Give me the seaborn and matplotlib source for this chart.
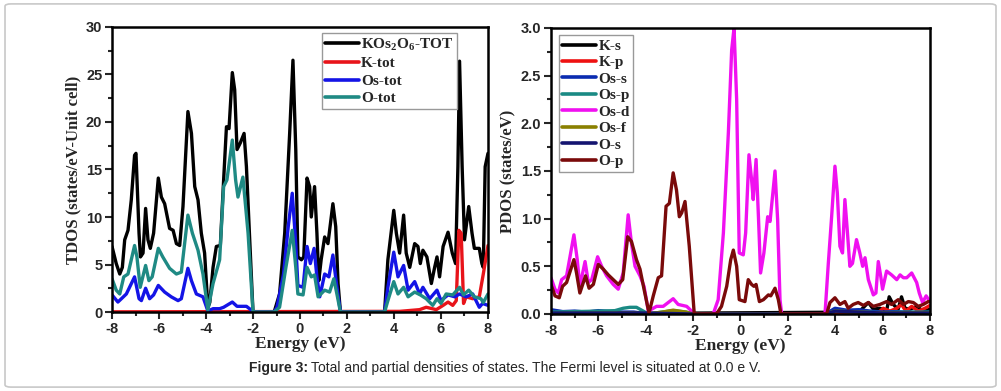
import matplotlib
matplotlib.use("Agg")
import matplotlib.pyplot as plt
import seaborn as sns
from matplotlib.patches import FancyBboxPatch
from matplotlib.ticker import MultipleLocator, FormatStrFormatter

# ---- left panel: total DOS ----
E_tot = [-8, -7.82, -7.67, -7.56, -7.46, -7.32, -7.18, -7.04, -6.98, -6.85, -6.79, -6.68, -6.57, -6.47,
         -6.37, -6.23, -6.03, -5.9, -5.76, -5.55, -5.4, -5.26, -5.12, -4.98, -4.77, -4.62, -4.48, -4.34,
         -4.2, -4.06, -3.92, -3.84, -3.7, -3.56, -3.39, -3.25, -3.13, -3.02, -2.88, -2.78, -2.68, -2.54,
         -2.38, -2.28, -2.14, -2.0, -1.1, -0.87, -0.65, -0.44, -0.3, -0.18, -0.09, 0.06, 0.16, 0.3, 0.41,
         0.48, 0.62, 0.72, 0.8, 0.9, 1.05, 1.19, 1.4, 1.52, 1.62, 1.72, 3.6, 3.74, 3.89, 3.99, 4.1, 4.24,
         4.41, 4.52, 4.67, 4.88, 5.02, 5.12, 5.23, 5.4, 5.59, 5.73, 5.83, 5.94, 6.09, 6.3, 6.48, 6.62,
         6.72, 6.79, 6.9, 7.0, 7.18, 7.32, 7.42, 7.63, 7.74, 7.8, 7.88, 8.0]
tot = [6.9, 5.1, 4.0, 4.7, 7.6, 8.6, 11.8, 16.5, 16.7, 8.3, 5.8, 6.2, 10.9, 7.6, 6.7, 8.3, 14.1, 12.1,
       11.4, 8.8, 8.6, 7.2, 7.0, 11.1, 21.1, 18.8, 13.2, 11.8, 8.3, 6.2, 0.5, 1.0, 4.7, 6.9, 7.0, 13.9,
       19.5, 19.3, 25.2, 23.4, 17.1, 17.8, 18.8, 15.3, 7.6, 0, 0, 1.9, 8.3, 18.8, 26.5, 17.1, 5.8, 5.5,
       5.8, 14.1, 13.2, 10.0, 13.2, 8.3, 3.3, 5.5, 7.9, 7.2, 11.4, 9.0, 3.0, 0, 0, 5.5, 8.6, 10.7, 8.3,
       6.2, 10.2, 6.2, 4.7, 7.2, 6.9, 5.1, 6.5, 5.8, 3.0, 4.7, 5.8, 3.7, 6.9, 8.4, 6.2, 5.1, 15.3, 26.4,
       15.3, 7.6, 11.1, 8.3, 6.7, 6.7, 5.1, 4.7, 15.3, 16.7]

E_k = [-8, 4.24, 5.09, 5.37, 5.8, 6.09, 6.3, 6.5, 6.65, 6.76, 6.86, 6.96, 7.07, 7.35, 7.63, 7.8, 8.0]
k_tot = [0.02, 0.07, 0.25, 0.5, 0.25, 0.7, 1.05, 0.7, 1.2, 8.6, 8.3, 0.9, 1.6, 1.4, 1.6, 4.0, 7.0]

E_os = [-8, -7.75, -7.6, -7.39, -7.04, -6.85, -6.75, -6.57, -6.4, -6.23, -6.03, -5.76, -5.48, -5.19,
        -5.05, -4.77, -4.62, -4.41, -4.13, -3.92, -3.7, -3.42, -3.25, -2.88, -2.68, -2.28, -2.07, -2.0,
        -1.1, -0.98, -0.7, -0.5, -0.33, -0.18, -0.09, 0.13, 0.3, 0.44, 0.6, 0.72, 0.84, 1.05, 1.23, 1.4,
        1.55, 1.72, 3.6, 3.74, 3.99, 4.17, 4.41, 4.6, 4.88, 5.09, 5.23, 5.52, 5.83, 6.0, 6.3, 6.59, 6.79,
        7.07, 7.35, 7.63, 7.77, 8.0]
os_tot = [1.8, 1.05, 1.4, 1.9, 3.7, 1.4, 1.2, 2.5, 1.4, 1.8, 2.8, 2.1, 1.6, 1.2, 1.4, 4.6, 3.3, 1.9, 1.6,
          0.1, 0.35, 0.35, 0.5, 1.05, 0.6, 0.6, 0.2, 0, 0, 0.5, 4.0, 9.0, 12.5, 7.2, 2.8, 2.6, 6.9, 5.1,
          6.7, 3.7, 1.6, 4.0, 3.7, 6.0, 3.0, 0, 0, 2.6, 6.3, 3.7, 4.9, 2.3, 3.2, 1.9, 2.6, 1.4, 2.3, 1.2,
          1.8, 1.6, 1.9, 1.6, 1.9, 0.5, 0.9, 0.7]

E_o = [-8, -7.82, -7.67, -7.5, -7.32, -7.04, -6.94, -6.8, -6.57, -6.43, -6.29, -6.03, -5.84, -5.55,
       -5.26, -5.05, -4.77, -4.58, -4.34, -4.13, -3.92, -3.7, -3.42, -3.25, -3.11, -2.88, -2.74, -2.64,
       -2.43, -2.21, -2.0, -1.1, -0.87, -0.6, -0.33, -0.18, -0.09, 0.13, 0.3, 0.48, 0.62, 0.77, 1.05,
       1.26, 1.44, 1.57, 1.72, 3.6, 3.74, 3.99, 4.17, 4.41, 4.6, 4.88, 5.12, 5.37, 5.65, 5.83, 6.0, 6.22,
       6.5, 6.79, 6.96, 7.18, 7.42, 7.7, 7.8, 8.0]
o_tot = [3.5, 2.3, 1.9, 3.7, 4.0, 7.0, 5.8, 2.6, 4.9, 3.3, 3.7, 6.7, 5.8, 4.6, 4.0, 4.2, 10.2, 8.3, 6.5,
         4.0, 0.2, 3.0, 5.5, 13.2, 13.9, 18.1, 13.9, 12.1, 14.2, 8.3, 0, 0, 0.5, 4.7, 8.6, 4.7, 1.9, 1.8,
         4.7, 3.7, 3.9, 1.6, 2.3, 2.1, 3.5, 1.9, 0, 0, 1.2, 3.2, 1.9, 2.6, 1.6, 2.1, 1.8, 1.4, 0.7, 1.4,
         0.9, 1.9, 1.8, 2.6, 1.8, 2.3, 1.6, 1.4, 1.0, 1.9]

# ---- right panel: partial DOS ----
E_ks = [-8, 5.0, 5.4, 5.61, 5.89, 6.17, 6.28, 6.45, 6.66, 6.8, 6.95, 7.16, 7.44, 7.72, 8.0]
k_s = [0.0, 0.02, 0.12, 0.05, 0.06, 0.03, 0.18, 0.1, 0.05, 0.18, 0.06, 0.05, 0.08, 0.03, 0.05]

E_kp = [-8, 5.75, 6.03, 6.31, 6.6, 6.8, 6.98, 7.23, 7.51, 7.79, 8.0]
k_p = [0.0, 0.0, 0.06, 0.03, 0.06, 0.1, 0.03, 0.08, 0.03, 0.06, 0.09]

E_ss = [-8, -7.5, -7.0, -6.5, -6.0, -5.5, -5.0, -4.5, -3.9, -2.0, 3.6, 3.99, 4.48, 5.0, 5.5, 6.0, 6.5,
        7.0, 7.5, 8.0]
os_s = [0.045, 0.025, 0.03, 0.02, 0.035, 0.025, 0.02, 0.02, 0.0, 0.0, 0.0, 0.06, 0.04, 0.045, 0.03,
        0.02, 0.025, 0.02, 0.015, 0.02]

E_sp = [-8, -7.0, -6.0, -5.3, -4.95, -4.67, -4.39, -4.1, -3.9, -3.3, -2.84, -2.3, -2.0, 3.6, 4.0, 5.0,
        6.0, 7.0, 8.0]
os_p = [0.02, 0.025, 0.03, 0.035, 0.06, 0.07, 0.07, 0.03, 0.0, 0.02, 0.035, 0.02, 0.0, 0.0, 0.03,
        0.02, 0.015, 0.02, 0.02]

E_d = [-8, -7.83, -7.69, -7.55, -7.34, -7.03, -6.89, -6.78, -6.56, -6.42, -6.28, -6.03, -5.86, -5.65,
       -5.37, -5.16, -4.95, -4.74, -4.6, -4.45, -4.24, -4.07, -3.89, -3.75, -3.54, -3.26, -2.84, -2.63,
       -2.27, -2.06, -1.92, -1.15, -0.94, -0.72, -0.51, -0.37, -0.27, -0.16, -0.05, 0.12, 0.22, 0.36,
       0.47, 0.54, 0.66, 0.76, 0.85, 0.99, 1.15, 1.25, 1.46, 1.57, 1.67, 1.74, 3.57, 3.71, 3.85, 3.99,
       4.09, 4.2, 4.31, 4.41, 4.51, 4.62, 4.73, 4.9, 5.04, 5.16, 5.26, 5.4, 5.61, 5.72, 5.82, 5.92, 6.0,
       6.17, 6.38, 6.6, 6.74, 6.88, 7.02, 7.23, 7.44, 7.55, 7.69, 7.84, 8.0]
os_d = [0.38, 0.26, 0.22, 0.36, 0.40, 0.83, 0.57, 0.29, 0.55, 0.33, 0.36, 0.6, 0.5, 0.4, 0.31, 0.26,
        0.43, 1.04, 0.74, 0.5, 0.4, 0.29, 0.03, 0.05, 0.08, 0.08, 0.16, 0.10, 0.08, 0.03, 0, 0, 0.15,
        0.85, 1.9, 2.77, 3.0, 2.25, 0.64, 0.62, 0.85, 1.67, 1.41, 1.2, 1.62, 1.02, 0.43, 0.64, 1.02,
        0.97, 1.5, 0.99, 0.15, 0, 0, 0.53, 1.02, 1.55, 1.27, 0.71, 0.64, 1.2, 0.88, 0.5, 0.53, 0.78,
        0.64, 0.5, 0.59, 0.36, 0.2, 0.22, 0.55, 0.4, 0.26, 0.45, 0.41, 0.36, 0.41, 0.38, 0.38, 0.43,
        0.33, 0.22, 0.12, 0.19, 0.13]

E_sf = [-8, -4.5, -3.9, -3.3, -2.84, -2.3, -2.0, 3.6, 4.0, 4.5, 5.0, 6.0, 7.0, 8.0]
os_f = [0.005, 0.01, 0.0, 0.02, 0.04, 0.02, 0.0, 0.0, 0.03, 0.025, 0.02, 0.01, 0.01, 0.01]

E_s = [-8, -4.0, -2.0, 3.6, 4.0, 5.0, 6.0, 7.0, 8.0]
o_s = [0.01, 0.01, 0.0, 0.0, 0.03, 0.02, 0.01, 0.01, 0.01]

E_p = [-8, -7.83, -7.65, -7.51, -7.34, -7.03, -6.92, -6.78, -6.54, -6.39, -6.21, -6.0, -5.79, -5.58,
       -5.37, -5.16, -4.97, -4.76, -4.6, -4.39, -4.24, -4.07, -3.86, -3.68, -3.47, -3.33, -3.14, -3.0,
       -2.84, -2.7, -2.58, -2.48, -2.34, -2.16, -1.95, -1.01, -0.8, -0.58, -0.41, -0.3, -0.16, -0.05,
       0.19, 0.33, 0.47, 0.57, 0.66, 0.8, 0.97, 1.18, 1.28, 1.46, 1.6, 1.71, 3.64, 3.78, 3.99, 4.2,
       4.41, 4.55, 4.76, 4.97, 5.19, 5.4, 5.61, 5.89, 6.17, 6.38, 6.66, 6.88, 7.09, 7.3, 7.51, 7.72,
       7.93, 8.0]
o_p = [0.31, 0.19, 0.17, 0.29, 0.33, 0.57, 0.43, 0.22, 0.40, 0.27, 0.31, 0.52, 0.47, 0.41, 0.36, 0.31,
       0.36, 0.81, 0.76, 0.57, 0.47, 0.26, 0.01, 0.19, 0.38, 0.4, 1.13, 1.16, 1.48, 1.3, 1.02, 1.06,
       1.18, 0.71, 0, 0, 0.08, 0.29, 0.57, 0.67, 0.5, 0.15, 0.13, 0.36, 0.31, 0.29, 0.31, 0.13, 0.15,
       0.2, 0.19, 0.27, 0.15, 0, 0, 0.12, 0.17, 0.1, 0.13, 0.06, 0.1, 0.12, 0.09, 0.12, 0.08, 0.1, 0.13,
       0.1, 0.15, 0.1, 0.13, 0.12, 0.08, 0.1, 0.13, 0.13]

sns.set_style("ticks")
plt.rcParams['font.family'] = ['Liberation Serif', 'DejaVu Serif']
plt.rcParams['mathtext.default'] = 'regular'
plt.rcParams['axes.unicode_minus'] = False

fig = plt.figure(figsize=(10.01, 3.91), dpi=100)
ax1 = fig.add_axes([0.1119, 0.202, 0.3756, 0.729])
ax2 = fig.add_axes([0.5504, 0.197, 0.3786, 0.7315])

lw = 2.4
left_series = [
    (E_tot, tot, 'black', 'KOs$_2$O$_6$-TOT'),
    (E_k, k_tot, '#e8141a', 'K-tot'),
    (E_os, os_tot, '#1414e6', 'Os-tot'),
    (E_o, o_tot, '#1f8a84', 'O-tot'),
]
for xs, ys, c, lab in left_series:
    sns.lineplot(x=xs, y=ys, ax=ax1, color=c, lw=lw, label=lab, sort=False, estimator=None)

right_series = [
    (E_ks, k_s, 'black', 'K-s'),
    (E_kp, k_p, '#ee1111', 'K-p'),
    (E_ss, os_s, '#0a2bb0', 'Os-s'),
    (E_sp, os_p, '#1a8a84', 'Os-p'),
    (E_d, os_d, '#f010f0', 'Os-d'),
    (E_sf, os_f, '#8a8000', 'Os-f'),
    (E_s, o_s, '#141470', 'O-s'),
    (E_p, o_p, '#7a0a0a', 'O-p'),
]
for xs, ys, c, lab in right_series:
    sns.lineplot(x=xs, y=ys, ax=ax2, color=c, lw=lw, label=lab, sort=False, estimator=None)

bold = dict(fontweight='bold', family=['Liberation Serif', 'DejaVu Serif'])

for ax, ymax, ymaj, ymin, ylab in [(ax1, 30, 5, 2.5, 'TDOS (states/eV-Unit cell)'),
                                   (ax2, 3.0, 0.5, 0.25, 'PDOS (states/eV)')]:
    ax.set_xlim(-8, 8)
    ax.set_ylim(0, ymax)
    ax.xaxis.set_major_locator(MultipleLocator(2))
    ax.xaxis.set_minor_locator(MultipleLocator(1))
    ax.yaxis.set_major_locator(MultipleLocator(ymaj))
    ax.yaxis.set_minor_locator(MultipleLocator(ymin))
    if ax is ax2:
        ax.yaxis.set_major_formatter(FormatStrFormatter('%.1f'))
    ax.tick_params(which='both', direction='out', width=1.5, top=False, right=False)
    ax.tick_params(which='major', length=5, labelsize=10.5, pad=2)
    ax.tick_params(which='minor', length=3)
    for lbl in ax.get_xticklabels() + ax.get_yticklabels():
        lbl.set_fontweight('bold')
        lbl.set_family('Liberation Sans')
    for sp in ax.spines.values():
        sp.set_visible(True)
        sp.set_linewidth(1.8)
        sp.set_color('black')
    ax.set_xlabel('Energy (eV)', fontsize=12.5, labelpad=0, **bold)
    ax.set_ylabel(ylab, fontsize=12, labelpad=3, **bold)

leg_kw = dict(frameon=True, fancybox=False, edgecolor='#999999', framealpha=1,
              handlelength=2.2, handletextpad=0.15, borderpad=0.25, borderaxespad=0.3,
              prop=dict(weight='bold', size=11, family='Liberation Serif'))
l1 = ax1.legend(loc='upper left', bbox_to_anchor=(0.545, 0.995), labelspacing=0.25, **leg_kw)
l2 = ax2.legend(loc='upper left', bbox_to_anchor=(0.008, 0.99), labelspacing=0.18, **leg_kw)
for leg in (l1, l2):
    leg.get_frame().set_linewidth(1.0)
    for h in leg.get_lines():
        h.set_linewidth(2.6)

# caption
fig.text(0.308, 0.0588, 'Figure 3:', ha='right', va='center', fontsize=10,
         family='Liberation Sans', fontweight='bold')
fig.text(0.3105, 0.0588, 'Total and partial densities of states. The Fermi level is situated at 0.0 e V.',
         ha='left', va='center', fontsize=10, family='Liberation Sans')

# outer frame
fig.patches.append(FancyBboxPatch((0.005, 0.01), 0.99, 0.98, boxstyle='round,pad=0,rounding_size=0.006',
                                  transform=fig.transFigure, fill=False, edgecolor='#c8c8c8', lw=1.2))

fig.savefig('out.png', dpi=100)
